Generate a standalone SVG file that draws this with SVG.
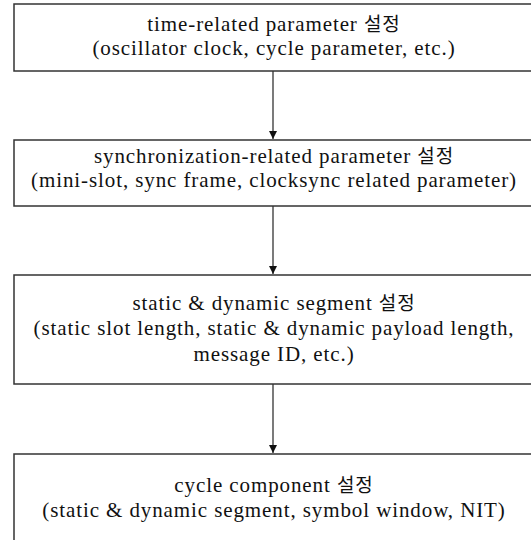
<svg xmlns="http://www.w3.org/2000/svg" width="531" height="540" viewBox="0 0 531 540">
<defs>
<marker id="ah" viewBox="0 0 10 10" refX="10" refY="5" markerWidth="8" markerHeight="8" markerUnits="userSpaceOnUse" orient="auto">
<path d="M0,0 L10,5 L0,10 z" fill="#111"/>
</marker>
</defs>
<rect width="531" height="540" fill="#fff"/>
<g id="connectors" stroke="#333" stroke-width="1.3" fill="none">
<line x1="273" y1="71" x2="273" y2="139" marker-end="url(#ah)"/>
<line x1="273" y1="206" x2="273" y2="274" marker-end="url(#ah)"/>
<line x1="273" y1="384" x2="273" y2="453" marker-end="url(#ah)"/>
</g>
<g id="node1">
<rect x="14" y="4" width="530" height="67" fill="#fff" stroke="#333" stroke-width="1.5"/>
<text x="274" y="31" text-anchor="middle" fill="#111" style="font-family:'Liberation Serif',serif;font-size:21px;letter-spacing:0.9px">time-related parameter <tspan style="font-family:'Noto Sans CJK KR',sans-serif;font-size:19px">설정</tspan></text>
<text x="274" y="55" text-anchor="middle" fill="#111" style="font-family:'Liberation Serif',serif;font-size:21px;letter-spacing:0.9px">(oscillator clock, cycle parameter, etc.)</text>
</g>
<g id="node2">
<rect x="14" y="140" width="530" height="66" fill="#fff" stroke="#333" stroke-width="1.5"/>
<text x="274" y="163" text-anchor="middle" fill="#111" style="font-family:'Liberation Serif',serif;font-size:21px;letter-spacing:0.9px">synchronization-related parameter <tspan style="font-family:'Noto Sans CJK KR',sans-serif;font-size:19px">설정</tspan></text>
<text x="274" y="187" text-anchor="middle" fill="#111" style="font-family:'Liberation Serif',serif;font-size:21px;letter-spacing:0.9px">(mini-slot, sync frame, clocksync related parameter)</text>
</g>
<g id="node3">
<rect x="14" y="275" width="530" height="109" fill="#fff" stroke="#333" stroke-width="1.5"/>
<text x="274" y="310" text-anchor="middle" fill="#111" style="font-family:'Liberation Serif',serif;font-size:21px;letter-spacing:0.9px">static &amp; dynamic segment <tspan style="font-family:'Noto Sans CJK KR',sans-serif;font-size:19px">설정</tspan></text>
<text x="274" y="335" text-anchor="middle" fill="#111" style="font-family:'Liberation Serif',serif;font-size:21px;letter-spacing:0.9px">(static slot length, static &amp; dynamic payload length,</text>
<text x="274" y="361" text-anchor="middle" fill="#111" style="font-family:'Liberation Serif',serif;font-size:21px;letter-spacing:0.9px">message ID, etc.)</text>
</g>
<g id="node4">
<rect x="14" y="454" width="530" height="100" fill="#fff" stroke="#333" stroke-width="1.5"/>
<text x="274" y="492" text-anchor="middle" fill="#111" style="font-family:'Liberation Serif',serif;font-size:21px;letter-spacing:0.9px">cycle component <tspan style="font-family:'Noto Sans CJK KR',sans-serif;font-size:19px">설정</tspan></text>
<text x="274" y="517" text-anchor="middle" fill="#111" style="font-family:'Liberation Serif',serif;font-size:21px;letter-spacing:0.9px">(static &amp; dynamic segment, symbol window, NIT)</text>
</g>
</svg>
